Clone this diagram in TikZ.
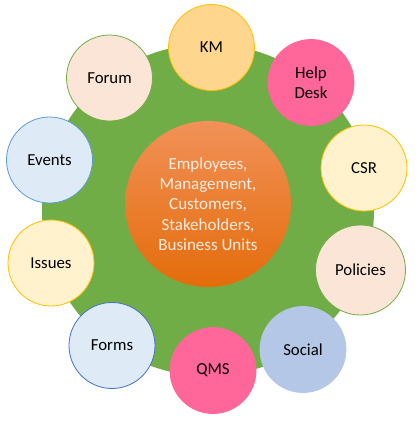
\documentclass[tikz,border=0pt]{standalone}
\usepackage{fontspec}
\setmainfont{Carlito}
\definecolor{bggreen}{HTML}{70AD47}
\definecolor{orangetop}{HTML}{F19158}
\definecolor{orangebot}{HTML}{E46C0A}
\definecolor{kmfill}{HTML}{FFD68E}
\definecolor{gold}{HTML}{FFC000}
\definecolor{pinkc}{HTML}{FF6699}
\definecolor{cream}{HTML}{FFF2CC}
\definecolor{peach}{HTML}{FBE5D6}
\definecolor{lblue}{HTML}{DEEBF7}
\definecolor{mblue}{HTML}{5B9BD5}
\definecolor{dblue}{HTML}{4472C4}
\definecolor{steel}{HTML}{B4C7E7}
\definecolor{centertext}{HTML}{FDEFE6}
\begin{document}
\begin{tikzpicture}[x=1pt,y=-1pt,
  bubble/.style={circle,inner sep=0pt,minimum size=86pt,line width=0.8pt,
    font=\fontsize{16.8}{19.8}\selectfont,align=center,text=black}]
\useasboundingbox (0,0) rectangle (418,424);
\fill[bggreen] (208,210) circle (166);
\node[circle,inner sep=0pt,minimum size=166pt,top color=orangetop,bottom color=orangebot,
  draw=none,text=centertext,align=center,font=\fontsize{17}{20.4}\selectfont]
  (core) at (208,204) {Employees,\\Management,\\Customers,\\Stakeholders,\\Business Units};
\node[bubble,fill=kmfill,draw=gold] (km) at (211.5,47.5) {KM};
\node[bubble,fill=pinkc,draw=pinkc] (help) at (311,82.5) {Help\\Desk};
\node[bubble,fill=cream,draw=gold] (csr) at (364,168) {CSR};
\node[bubble,fill=steel,draw=steel] (social) at (303,349.5) {Social};
\node[bubble,fill=peach,draw=bggreen,minimum size=90pt] (pol) at (360.5,270) {Policies};
\node[bubble,fill=pinkc,draw=pinkc] (qms) at (213,370.5) {QMS};
\node[bubble,fill=lblue,draw=dblue] (forms) at (112,345.5) {Forms};
\node[bubble,fill=cream,draw=gold] (issues) at (51,263) {Issues};
\node[bubble,fill=lblue,draw=mblue] (events) at (49.5,160) {Events};
\node[bubble,fill=peach,draw=bggreen] (forum) at (109.5,78) {Forum};
\end{tikzpicture}
\end{document}
